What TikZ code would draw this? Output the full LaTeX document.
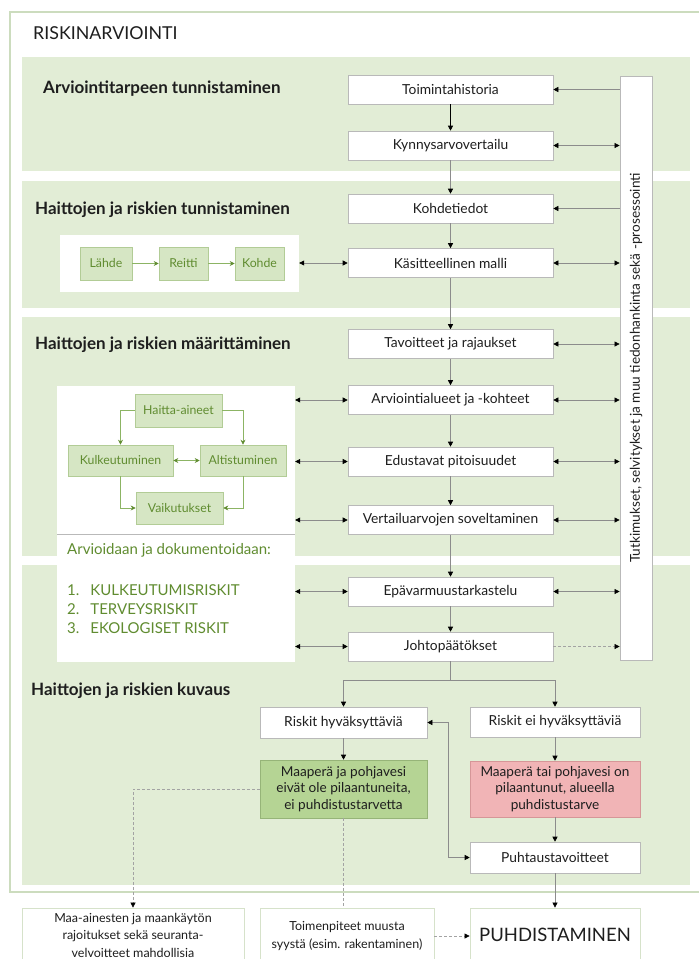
\documentclass[tikz,border=0pt]{standalone}
\usepackage{fontspec}
\setmainfont{Lato}
\usetikzlibrary{arrows.meta}
\definecolor{band}{RGB}{226,237,214}
\definecolor{frame}{RGB}{204,220,190}
\definecolor{boxgray}{RGB}{185,185,185}
\definecolor{linegray}{RGB}{140,140,140}
\definecolor{txt}{RGB}{30,30,30}
\definecolor{gfill}{RGB}{214,230,196}
\definecolor{gborder}{RGB}{178,204,150}
\definecolor{gtext}{RGB}{96,140,48}
\definecolor{gline}{RGB}{140,180,100}
\definecolor{dgfill}{RGB}{181,212,148}
\definecolor{dgborder}{RGB}{150,180,120}
\definecolor{pfill}{RGB}{241,180,182}
\definecolor{pborder}{RGB}{214,150,152}
\definecolor{lborder}{RGB}{214,226,202}
\tikzset{
  cbox/.style={draw=boxgray, fill=white, line width=0.6pt, minimum width=205pt, minimum height=29pt, inner sep=0pt, text=txt, font=\fontsize{13.8}{16}\selectfont},
  gbox/.style={draw=gborder, fill=gfill, line width=0.6pt, inner sep=0pt, text=gtext, font=\fontsize{12.3}{14}\selectfont},
  panel/.style={fill=white, draw=none, inner sep=0pt},
  head/.style={anchor=west, inner sep=0pt, text=txt, font=\fontsize{17}{20}\selectfont\bfseries},
  gtxt/.style={anchor=west, inner sep=0pt, text=gtext, font=\fontsize{15}{18}\selectfont},
  arr/.style={draw=linegray, line width=0.6pt, -{Triangle[length=5pt,width=5pt,color=black]}},
  darr/.style={draw=linegray, line width=0.6pt, {Triangle[length=5pt,width=5pt,color=black]}-{Triangle[length=5pt,width=5pt,color=black]}},
  ln/.style={draw=linegray, line width=0.6pt},
  dsh/.style={draw=linegray!80, line width=0.6pt, dash pattern=on 3pt off 2pt},
  garr/.style={draw=gline, line width=0.6pt, -{Stealth[length=5pt,width=5pt,color=gtext]}},
  gdarr/.style={draw=gline, line width=0.6pt, {Stealth[length=5pt,width=5pt,color=gtext]}-{Stealth[length=5pt,width=5pt,color=gtext]}},
  obox/.style={draw=lborder, fill=white, line width=0.8pt, inner sep=0pt, align=center, text=txt, font=\fontsize{12.5}{17.5}\selectfont},
}
\begin{document}
\begin{tikzpicture}[x=1pt,y=-1pt]
\useasboundingbox (0,0) rectangle (699,959);
\clip (0,0) rectangle (699,959);
\fill[white] (0,0) rectangle (699,959);
% outer frame
\draw[frame, line width=1.6pt] (10,12) rectangle (720,892);
\node[anchor=west, inner sep=0pt, text=txt, font=\fontsize{17.8}{20}\selectfont] (title) at (33,33) {RISKINARVIOINTI};
% bands
\fill[band] (22,57) rectangle (690,171);
\fill[band] (22,181) rectangle (690,308);
\fill[band] (22,317) rectangle (690,556);
\fill[band] (22,565) rectangle (690,885);
% headings
\node[head] (h1) at (43,89) {Arviointitarpeen tunnistaminen};
\node[head] (h2) at (35,210) {Haittojen ja riskien tunnistaminen};
\node[head] (h3) at (35,345) {Haittojen ja riskien määrittäminen};
\node[head] (h4) at (31,691) {Haittojen ja riskien kuvaus};
% right vertical box
\node[draw=boxgray, fill=white, line width=0.8pt, rotate=90, minimum width=584pt, minimum height=32pt, inner sep=0pt, text=txt, font=\fontsize{13.6}{16}\selectfont] (tut) at (636,368) {Tutkimukset, selvitykset ja muu tiedonhankinta sekä -prosessointi};
% center boxes
\node[cbox] (toim) at (450.5,89.5) {Toimintahistoria};
\node[cbox] (kyn) at (450.5,145.5) {Kynnysarvovertailu};
\node[cbox] (koh) at (450.5,208.5) {Kohdetiedot};
\node[cbox] (kas) at (450.5,263) {Käsitteellinen malli};
\node[cbox] (tav) at (450.5,344) {Tavoitteet ja rajaukset};
\node[cbox] (arv) at (450.5,400) {Arviointialueet ja -kohteet};
\node[cbox] (edu) at (450.5,461.5) {Edustavat pitoisuudet};
\node[cbox] (ver) at (450.5,520) {Vertailuarvojen soveltaminen};
\node[cbox] (epa) at (450.5,591.5) {Epävarmuustarkastelu};
\node[cbox] (joh) at (450.5,646.5) {Johtopäätökset};
% vertical flow
\draw[black, line width=0.9pt, -{Triangle[length=5pt,width=5pt,color=black]}] (toim) -- (kyn);
\draw[arr] (kyn) -- (koh);
\draw[arr] (koh) -- (kas);
\draw[arr] (kas) -- (tav);
\draw[arr] (tav) -- (arv);
\draw[arr] (arv) -- (edu);
\draw[arr] (edu) -- (ver);
\draw[arr] (ver) -- (epa);
\draw[arr] (epa) -- (joh);
% right arrows
\draw[arr] (toim.east -| tut.north) -- (toim.east);
\draw[darr] (kyn.east) -- (kyn.east -| tut.north);
\draw[arr] (koh.east -| tut.north) -- (koh.east);
\draw[darr] (kas.east) -- (kas.east -| tut.north);
\draw[darr] (tav.east) -- (tav.east -| tut.north);
\draw[darr] (arv.east) -- (arv.east -| tut.north);
\draw[darr] (edu.east) -- (edu.east -| tut.north);
\draw[darr] (ver.east) -- (ver.east -| tut.north);
\draw[darr] (epa.east) -- (epa.east -| tut.north);
\draw[dsh, -{Triangle[length=5pt,width=5pt,color=black]}] (joh.east) -- (joh.east -| tut.north);
% left panel 1
\node[panel, minimum width=239pt, minimum height=57pt] (lp) at (179.5,263.5) {};
\node[gbox, minimum width=52pt, minimum height=33pt] (lah) at (106,263.5) {Lähde};
\node[gbox, minimum width=49pt, minimum height=33pt] (rei) at (183.5,263.5) {Reitti};
\node[gbox, minimum width=49pt, minimum height=33pt] (kohd) at (259.5,263.5) {Kohde};
\draw[garr] (lah) -- (rei);
\draw[garr] (rei) -- (kohd);
\draw[darr] (lp.east |- kas.west) -- (kas.west);
% left panel 2
\node[panel, minimum width=238pt, minimum height=276pt] (bp) at (176,524) {};
\draw[draw=boxgray, line width=0.6pt] (bp.west |- 0,534) -- (bp.east |- 0,534);
\node[gbox, minimum width=87pt, minimum height=33pt] (hai) at (178.5,410.5) {Haitta-aineet};
\node[gbox, minimum width=105pt, minimum height=31pt] (kul) at (120.5,460.5) {Kulkeutuminen};
\node[gbox, minimum width=86pt, minimum height=31pt] (alt) at (243,460.5) {Altistuminen};
\node[gbox, minimum width=87pt, minimum height=32pt] (vai) at (179.5,508) {Vaikutukset};
\draw[garr] (hai.west) -| (kul.north);
\draw[garr] (hai.east) -| (alt.north);
\draw[gdarr] (kul.east) -- (alt.west);
\draw[garr] (kul.south) |- (vai.west);
\draw[garr] (alt.south) |- (vai.east);
\node[gtxt] (arvd) at (67,550) {Arvioidaan ja dokumentoidaan:};
\node[gtxt] (l1) at (67,590) {1.\hspace{11pt}KULKEUTUMISRISKIT};
\node[gtxt] (l2) at (67,609) {2.\hspace{11pt}TERVEYSRISKIT};
\node[gtxt] (l3) at (67,628) {3.\hspace{11pt}EKOLOGISET RISKIT};
\draw[darr] (bp.east |- arv.west) -- (arv.west);
\draw[darr] (bp.east |- edu.west) -- (edu.west);
\draw[darr] (bp.east |- ver.west) -- (ver.west);
\draw[darr] (bp.east |- epa.west) -- (epa.west);
\draw[darr] (bp.east |- joh.west) -- (joh.west);
% bottom part
\node[cbox, minimum width=167pt, minimum height=31pt] (rh) at (343.5,722.5) {Riskit hyväksyttäviä};
\node[cbox, minimum width=170pt, minimum height=30pt] (reh) at (555,722) {Riskit ei hyväksyttäviä};
\node[draw=dgborder, fill=dgfill, line width=0.6pt, minimum width=167pt, minimum height=58pt, inner sep=0pt, align=center, text=txt, font=\fontsize{13.6}{16.5}\selectfont] (gm) at (343.5,789) {Maaperä ja pohjavesi\\eivät ole pilaantuneita,\\ei puhdistustarvetta};
\node[draw=pborder, fill=pfill, line width=0.6pt, minimum width=170pt, minimum height=56pt, inner sep=0pt, align=center, text=txt, font=\fontsize{13.6}{16.5}\selectfont] (pm) at (555,789) {Maaperä tai pohjavesi on\\pilaantunut, alueella\\puhdistustarve};
\node[cbox, minimum width=170pt, minimum height=31pt] (puh) at (555,857.5) {Puhtaustavoitteet};
\coordinate (split) at (450.5,680);
\draw[ln] (joh.south) -- (split);
\draw[arr] (split) -| (rh.north);
\draw[arr] (split) -| (reh.north);
\draw[arr] (rh) -- (gm);
\draw[arr] (reh) -- (pm);
\draw[arr] (pm) -- (puh);
\draw[darr] (rh.east) -- ++(21,0) |- (puh.west);
% outside boxes
\node[obox, minimum width=222pt, minimum height=54pt] (maa) at (133,935) {Maa-ainesten ja maankäytön\\rajoitukset sekä seuranta-\\velvoitteet mahdollisia};
\node[obox, minimum width=174pt, minimum height=56pt] (tmp) at (347,936) {Toimenpiteet muusta\\syystä (esim. rakentaminen)};
\node[obox, minimum width=170pt, minimum height=54pt, font=\fontsize{18.5}{22}\selectfont] (puhd) at (555,935) {PUHDISTAMINEN};
\draw[arr] (puh) -- (puhd);
\draw[dsh, -{Triangle[length=5pt,width=5pt,color=black]}] (gm.west) -| (maa.north);
\draw[dsh] (gm.south) -- (gm.south |- tmp.north);
\draw[dsh, -{Triangle[length=5pt,width=5pt,color=black]}] (tmp.east) -- (tmp.east -| puhd.west);
\end{tikzpicture}
\end{document}
